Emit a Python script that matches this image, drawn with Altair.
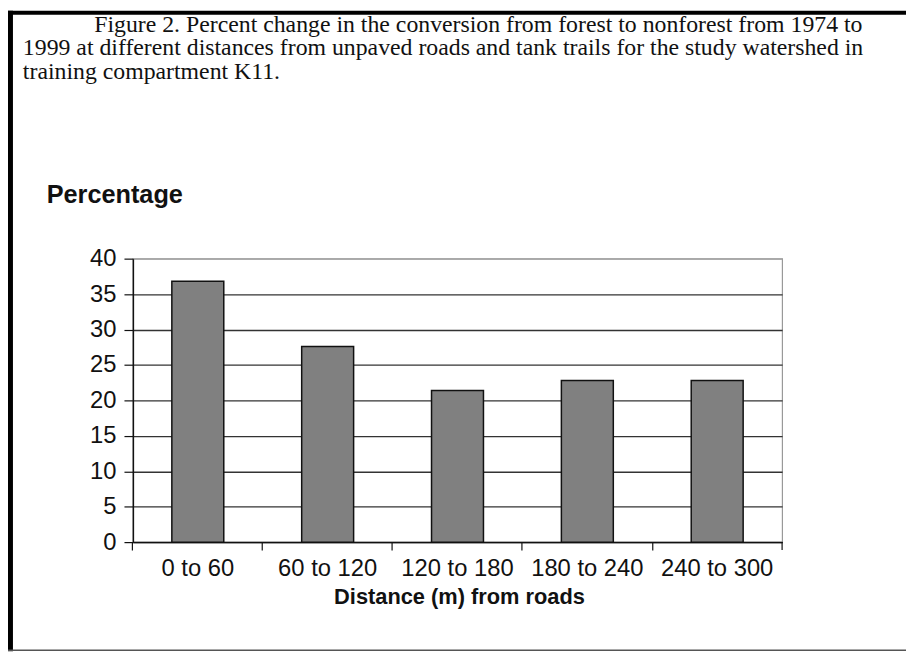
import altair as alt
import pandas as pd

# ---- data ----
categories = ["0 to 60", "60 to 120", "120 to 180", "180 to 240", "240 to 300"]
percentages = [36.8, 27.6, 21.4, 22.8, 22.8]
y_ticks = [0, 5, 10, 15, 20, 25, 30, 35, 40]
caption_lines = [
    "Figure 2. Percent change in the conversion from forest to nonforest from 1974 to",
    "1999 at different distances from unpaved roads and tank trails for the study watershed in",
    "training compartment K11.",
]
y_label = "Percentage"
x_title = "Distance (m) from roads"

df = pd.DataFrame({"distance": categories, "pct": percentages})

W, H = 655, 286          # plot area
PL, PT = 126, 250        # left / top padding
TOTAL_W, TOTAL_H = 906, 646

one = alt.Data(values=[{"k": 0}])

bars = alt.Chart(df).mark_bar(color="#808080", stroke="#111111", strokeWidth=1.5).encode(
    x=alt.X(
        "distance:N",
        sort=categories,
        scale=alt.Scale(paddingInner=0.6, paddingOuter=0.3),
        axis=alt.Axis(
            title=x_title,
            labelAngle=0,
            bandPosition=-0.75,
            labelPadding=7,
            tickSize=8,
            tickColor="#111111",
            tickWidth=1.2,
            domainColor="#111111",
            domainWidth=1.5,
            labelFont="Liberation Sans",
            labelFontSize=24,
            labelColor="#111111",
            titleFont="Liberation Sans",
            titleFontSize=22,
            titleFontWeight="bold",
            titleColor="#111111",
            titleX=329,
            titleY=45,
            titleAlign="center",
            titleBaseline="top",
            grid=False,
        ),
    ),
    y=alt.Y(
        "pct:Q",
        scale=alt.Scale(domain=[0, 40], nice=False),
        axis=alt.Axis(
            title=None,
            values=y_ticks,
            tickSize=9,
            tickColor="#111111",
            tickWidth=1.2,
            domainColor="#111111",
            domainWidth=1.5,
            labelPadding=8,
            labelFont="Liberation Sans",
            labelFontSize=24,
            labelColor="#111111",
            grid=True,
            gridColor={"condition": {"test": "datum.value >= 40", "value": "#a0a0a0"}, "value": "#333333"},
            gridWidth=1.3,
        ),
    ),
)

end_tick = alt.Chart(one).mark_rule(color="#111111", strokeWidth=1.2).encode(
    x=alt.value(W), y=alt.value(H), y2=alt.value(H + 8)
)

top_border = alt.Chart(one).mark_rule(color="#000000", strokeWidth=4).encode(
    x=alt.value(-PL), x2=alt.value(TOTAL_W - PL), y=alt.value(-PT + 2)
)
left_border = alt.Chart(one).mark_rule(color="#000000", strokeWidth=5).encode(
    x=alt.value(-PL + 2.5), y=alt.value(-PT), y2=alt.value(TOTAL_H - PT)
)
bottom_border = alt.Chart(one).mark_rule(color="#555555", strokeWidth=1.5).encode(
    x=alt.value(-PL), x2=alt.value(TOTAL_W - PL), y=alt.value(645 - PT)
)

cap_x = [95 - 8 - PL, 23 - 8 - PL, 23 - 8 - PL]
cap_y = [29 - 8 - PT, 53 - 8 - PT, 77 - 8 - PT]
caption_layers = [
    alt.Chart(one).mark_text(
        text=line, font="Liberation Serif", fontSize=24, align="left",
        baseline="alphabetic", color="#111111"
    ).encode(x=alt.value(cx), y=alt.value(cy))
    for line, cx, cy in zip(caption_lines, cap_x, cap_y)
]

ylab = alt.Chart(one).mark_text(
    text=y_label, font="Liberation Sans", fontSize=25.5, fontWeight="bold",
    align="left", baseline="alphabetic", color="#111111"
).encode(x=alt.value(47 - 8 - PL), y=alt.value(202 - 8 - PT))

chart = alt.layer(
    bars, end_tick, top_border, left_border, bottom_border, ylab, *caption_layers
).properties(
    width=W, height=H,
    autosize=alt.AutoSizeParams(type="none"),
    padding={"left": PL, "top": PT, "right": TOTAL_W - PL - W, "bottom": TOTAL_H - PT - H},
    background="white",
).configure_view(stroke="#999999", strokeWidth=1.2)

chart.save("out.html", embed_options={"renderer": "svg", "actions": False})
